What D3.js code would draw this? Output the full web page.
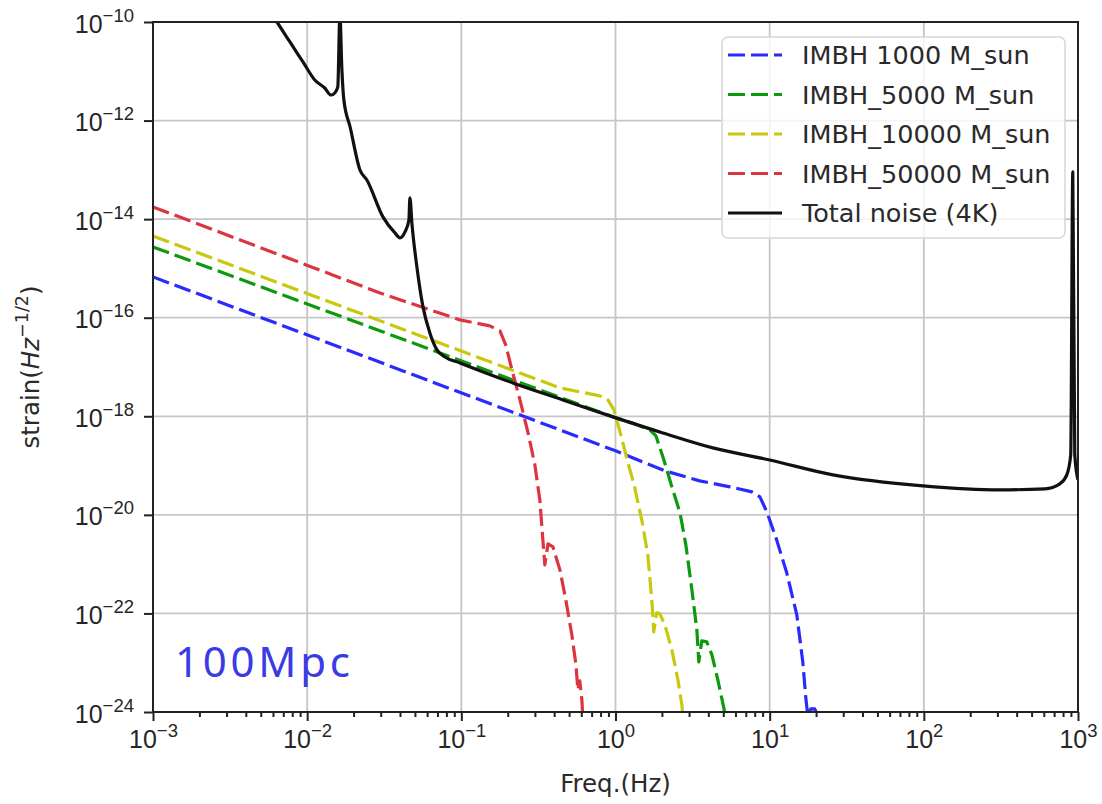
<!DOCTYPE html>
<html lang="en">
<head>
  <meta charset="UTF-8" />
  <title>IMBH strain vs total noise</title>
  <script src="https://d3js.org/d3.v7.min.js"></script>
  <style>
    body { margin: 0; background: #fff; }
    svg { display: block; font-family: "DejaVu Sans", sans-serif; }
    .grid line { stroke: #c6c6c6; stroke-width: 1.8; }
    .axis path, .axis line { stroke: #222; }
    .axis path { stroke-width: 0; }
    .axis .tick line { stroke-width: 2; }
    .tick-label { font-size: 25px; fill: #262626; }
    .axis-label { font-size: 24.5px; fill: #2a2a2a; }
    .legend-text { font-size: 25.5px; fill: #2a2a2a; }
  </style>
</head>
<body>
  <svg id="chart"></svg>

  <script>
    // ---- data ----
    const freqTicks   = [1e-3, 1e-2, 1e-1, 1e0, 1e1, 1e2, 1e3];
    const strainTicks = [1e-10, 1e-12, 1e-14, 1e-16, 1e-18, 1e-20, 1e-22, 1e-24];

    const seriesNames = ["IMBH 1000 M_sun", "IMBH_5000 M_sun", "IMBH_10000 M_sun",
                         "IMBH_50000 M_sun", "Total noise (4K)"];

    // [frequency Hz, strain Hz^-1/2]
    const imbh1000 = [
      [1e-3, 6.73e-16], [1.0, 1.99e-19], [2.09, 7.82e-20], [3.52, 4.90e-20],
      [5.52, 3.70e-20], [7.67, 2.93e-20], [8.64, 2.32e-20], [9.59, 1.15e-20],
      [11.1, 3.11e-21], [12.9, 6.67e-22], [15.0, 9.37e-23], [16.4, 1.04e-23],
      [17.2, 1.77e-24], [17.7, 8.3e-25], [18.5, 1.16e-24], [19.6, 1.16e-24],
      [20.8, 7.6e-25]
    ];
    const imbh5000 = [
      [1e-3, 2.73e-15], [1.0, 9.29e-19], [1.34, 7.02e-19], [1.67, 5.30e-19],
      [1.83, 4.00e-19], [2.06, 1.30e-19], [2.32, 3.70e-20], [2.62, 1.10e-20],
      [2.86, 2.46e-21], [3.13, 3.01e-22], [3.37, 4.65e-23], [3.47, 1.04e-23],
      [3.63, 2.78e-23], [3.91, 2.65e-23], [4.22, 1.45e-23], [4.61, 4.50e-24],
      [5.04, 1.22e-24], [5.20, 6.9e-25]
    ];
    const imbh10000 = [
      [1e-3, 4.56e-15], [0.435, 3.77e-18], [0.634, 2.98e-18], [0.792, 2.59e-18],
      [0.893, 2.15e-18], [0.977, 1.35e-18], [1.07, 4.83e-19], [1.19, 1.30e-19],
      [1.32, 4.06e-20], [1.48, 7.93e-21], [1.62, 1.55e-21], [1.72, 1.89e-22],
      [1.77, 4.24e-23], [1.85, 1.03e-22], [1.94, 9.82e-23], [2.09, 5.87e-23],
      [2.32, 1.83e-23], [2.54, 4.50e-24], [2.70, 1.34e-24], [2.74, 6.9e-25]
    ];
    const imbh50000 = [
      [1e-3, 1.77e-14], [0.0297, 3.18e-16], [0.098, 9.02e-17], [0.153, 6.82e-17],
      [0.178, 5.40e-17], [0.194, 2.81e-17], [0.213, 8.73e-18], [0.240, 2.15e-18],
      [0.270, 4.83e-19], [0.300, 1.03e-19], [0.323, 2.01e-20], [0.338, 3.11e-21],
      [0.348, 9.68e-22], [0.365, 2.58e-21], [0.393, 2.24e-21], [0.436, 7.66e-22],
      [0.476, 1.89e-22], [0.521, 3.68e-23], [0.554, 9.06e-24], [0.570, 2.82e-24],
      [0.587, 4.29e-24], [0.605, 1.77e-24], [0.615, 6.9e-25]
    ];
    const noise4K = [
      [5.09e-3, 2.79e-10], [6.37e-3, 1.0e-10], [7.73e-3, 3.93e-11], [9.39e-3, 1.55e-11],
      [1.12e-2, 6.67e-12], [1.30e-2, 4.58e-12], [1.43e-2, 3.30e-12], [1.51e-2, 3.63e-12],
      [1.58e-2, 4.81e-12], [1.63e-2, 1.39e-10], [1.68e-2, 1.06e-11], [1.73e-2, 2.62e-12],
      [1.90e-2, 7.41e-13], [2.20e-2, 9.95e-14], [2.44e-2, 6.24e-14], [3.10e-2, 1.11e-14],
      [3.71e-2, 5.25e-15], [4.00e-2, 4.16e-15], [4.31e-2, 5.50e-15], [4.57e-2, 9.63e-15],
      [4.64e-2, 2.69e-14], [4.79e-2, 7.62e-15], [5.15e-2, 1.07e-15], [5.64e-2, 1.66e-16],
      [6.25e-2, 4.92e-17], [6.95e-2, 2.22e-17], [7.83e-2, 1.60e-17], [9.80e-2, 1.21e-17],
      [0.216, 4.75e-18], [0.456, 2.15e-18], [0.962, 9.73e-19], [2.03, 4.60e-19],
      [4.28, 2.29e-19], [10.0, 1.30e-19], [25.7, 6.48e-20], [98.6, 3.87e-20],
      [311, 3.21e-20], [610, 3.37e-20], [762, 4.26e-20], [846, 6.48e-20],
      [897, 1.65e-19], [925, 9.06e-14], [953, 1.65e-19], [1000, 5.13e-20]
    ];

    const seriesData   = [imbh1000, imbh5000, imbh10000, imbh50000, noise4K];
    const seriesColors = ["#2a2aff", "#0b9a0b", "#c8c80c", "#dc3440", "#111111"];
    const seriesDashed = [true, true, true, true, false];

    // ---- layout ----
    const margin = { top: 22, right: 24, bottom: 92, left: 153 };
    const width  = 1102 - margin.left - margin.right;
    const height = 804  - margin.top  - margin.bottom;

    const svgRoot = d3.select("#chart")
                      .attr("width", 1102)
                      .attr("height", 804);

    const svg = svgRoot.append("g")
                       .attr("transform", `translate(${margin.left},${margin.top})`);

    const x = d3.scaleLog().domain([1e-3, 1e3]).range([0, width]);
    const y = d3.scaleLog().domain([1e-24, 1e-10]).range([height, 0]);

    // grid
    svg.append("g").attr("class", "grid")
       .selectAll("line").data(freqTicks).enter().append("line")
         .attr("x1", d => x(d)).attr("x2", d => x(d))
         .attr("y1", 0).attr("y2", height);
    svg.append("g").attr("class", "grid")
       .selectAll("line").data(strainTicks).enter().append("line")
         .attr("y1", d => y(d)).attr("y2", d => y(d))
         .attr("x1", 0).attr("x2", width);

    svgRoot.append("defs").append("clipPath").attr("id", "plot-clip")
      .append("rect").attr("width", width).attr("height", height);

    // curves: straight segments for the signals, smoothed for the noise
    const signalLine = d3.line()
                   .x(d => x(d[0]))
                   .y(d => y(d[1]))
                   .curve(d3.curveLinear);
    const noiseLine = d3.line()
                   .x(d => x(d[0]))
                   .y(d => y(d[1]))
                   .curve(d3.curveMonotoneX);

    const curves = svg.append("g").attr("clip-path", "url(#plot-clip)");
    seriesData.forEach((s, i) => {
      curves.append("path")
        .datum(s)
        .attr("fill", "none")
        .attr("stroke", seriesColors[i])
        .attr("stroke-width", 3.2)
        .attr("stroke-linejoin", "round")
        .attr("stroke-dasharray", seriesDashed[i] ? "17,6" : null)
        .attr("d", seriesDashed[i] ? signalLine : noiseLine);
    });

    // axes
    const minorFreq = x.ticks().filter(t => !freqTicks.some(m => Math.abs(m - t) / m < 1e-6));

    svg.append("g").attr("class", "axis")
       .attr("transform", `translate(0,${height})`)
       .call(d3.axisBottom(x).tickValues(minorFreq).tickSize(5).tickFormat(""))
       .selectAll(".tick line").attr("stroke-width", 1.5);

    const xAxis = svg.append("g").attr("class", "axis")
       .attr("transform", `translate(0,${height})`)
       .call(d3.axisBottom(x).tickValues(freqTicks).tickSize(9).tickFormat(""));

    const yAxis = svg.append("g").attr("class", "axis")
       .call(d3.axisLeft(y).tickValues(strainTicks).tickSize(9).tickFormat(""));

    function powerLabel(sel, v) {
      const e = Math.round(Math.log10(v));
      sel.append("tspan").text("10");
      sel.append("tspan")
         .attr("dy", -11)
         .style("font-size", "18.5px")
         .text((e < 0 ? "\u2212" : "") + Math.abs(e));
    }

    xAxis.selectAll(".tick").each(function (d) {
      const t = d3.select(this).append("text")
                  .attr("class", "tick-label")
                  .attr("x", 0).attr("y", 36)
                  .attr("text-anchor", "middle")
                  .attr("fill", "#262626");
      powerLabel(t, d);
    });

    yAxis.selectAll(".tick").each(function (d) {
      const t = d3.select(this).append("text")
                  .attr("class", "tick-label")
                  .attr("x", -19).attr("y", 10)
                  .attr("text-anchor", "end")
                  .attr("fill", "#262626");
      powerLabel(t, d);
    });

    // frame
    svg.append("rect")
       .attr("width", width).attr("height", height)
       .attr("fill", "none").attr("stroke", "#222").attr("stroke-width", 2);

    // axis labels
    svg.append("text")
       .attr("class", "axis-label")
       .attr("x", width / 2).attr("y", height + 80)
       .attr("text-anchor", "middle")
       .text("Freq.(Hz)");

    const yl = svg.append("text")
       .attr("class", "axis-label")
       .attr("transform", `translate(${39 - margin.left},${height / 2}) rotate(-90)`)
       .attr("text-anchor", "middle");
    yl.append("tspan").text("strain(");
    yl.append("tspan").style("font-style", "italic").text("Hz");
    yl.append("tspan").attr("dy", -11).style("font-size", "17.5px").text("\u22121/2");
    yl.append("tspan").attr("dy", 11).text(")");

    // annotation
    svg.append("text")
       .attr("x", 175 - margin.left).attr("y", 677 - margin.top)
       .attr("font-family", "'Noto Sans', sans-serif")
       .attr("font-size", 42)
       .attr("fill", "#3b3be3")
       .attr("textLength", 175)
       .attr("lengthAdjust", "spacing")
       .text("100Mpc");

    // legend
    const legend = svg.append("g")
       .attr("transform", `translate(${722 - margin.left},${37 - margin.top})`);
    legend.append("rect")
       .attr("width", 343).attr("height", 201)
       .attr("rx", 6).attr("ry", 6)
       .attr("fill", "#fff").attr("fill-opacity", 0.8)
       .attr("stroke", "#d6d6d6").attr("stroke-width", 1.5);

    const entries = legend.selectAll(".entry")
       .data(seriesNames)
       .enter().append("g")
         .attr("class", "entry")
         .attr("transform", (d, i) => `translate(0,${18 + i * 39.5})`);
    entries.append("line")
       .attr("x1", 6).attr("x2", 60)
       .attr("stroke", (d, i) => seriesColors[i])
       .attr("stroke-width", 3.2)
       .attr("stroke-dasharray", (d, i) => seriesDashed[i] ? "17,6" : null);
    entries.append("text")
       .attr("class", "legend-text")
       .attr("x", 80).attr("dy", "0.36em")
       .text(d => d);
  </script>
</body>
</html>
